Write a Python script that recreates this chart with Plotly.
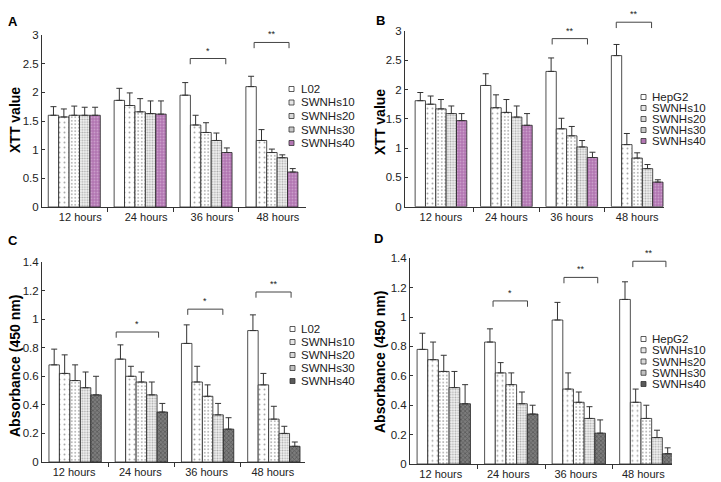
import plotly.graph_objects as go

# ---------------- data ----------------
timepoints = ["12 hours", "24 hours", "36 hours", "48 hours"]
series_normal = ["L02", "SWNHs10", "SWNHs20", "SWNHs30", "SWNHs40"]
series_tumor = ["HepG2", "SWNHs10", "SWNHs20", "SWNHs30", "SWNHs40"]

# Panel A: XTT value, L02 cells (mean per timepoint)
A_L02 = [1.60, 1.86, 1.95, 2.10]
A_S10 = [1.57, 1.77, 1.43, 1.16]
A_S20 = [1.60, 1.66, 1.30, 0.95]
A_S30 = [1.60, 1.63, 1.16, 0.86]
A_S40 = [1.60, 1.62, 0.95, 0.61]
A_L02_sd = [0.15, 0.21, 0.22, 0.18]
A_S10_sd = [0.14, 0.22, 0.17, 0.19]
A_S20_sd = [0.16, 0.23, 0.17, 0.06]
A_S30_sd = [0.14, 0.22, 0.13, 0.05]
A_S40_sd = [0.14, 0.23, 0.08, 0.06]

# Panel B: XTT value, HepG2 cells
B_HepG2 = [1.81, 2.07, 2.31, 2.58]
B_S10 = [1.75, 1.69, 1.33, 1.06]
B_S20 = [1.67, 1.61, 1.21, 0.83]
B_S30 = [1.59, 1.53, 1.02, 0.65]
B_S40 = [1.47, 1.39, 0.84, 0.42]
B_HepG2_sd = [0.14, 0.20, 0.23, 0.19]
B_S10_sd = [0.14, 0.22, 0.18, 0.19]
B_S20_sd = [0.16, 0.22, 0.16, 0.09]
B_S30_sd = [0.13, 0.19, 0.11, 0.07]
B_S40_sd = [0.12, 0.20, 0.09, 0.04]

# Panel C: Absorbance (450 nm), L02 cells
C_L02 = [0.68, 0.72, 0.83, 0.92]
C_S10 = [0.62, 0.60, 0.56, 0.54]
C_S20 = [0.57, 0.56, 0.46, 0.30]
C_S30 = [0.52, 0.47, 0.33, 0.20]
C_S40 = [0.47, 0.35, 0.23, 0.11]
C_L02_sd = [0.11, 0.10, 0.13, 0.11]
C_S10_sd = [0.13, 0.07, 0.11, 0.08]
C_S20_sd = [0.11, 0.07, 0.08, 0.09]
C_S30_sd = [0.11, 0.09, 0.08, 0.05]
C_S40_sd = [0.13, 0.06, 0.08, 0.03]

# Panel D: Absorbance (450 nm), HepG2 cells
D_HepG2 = [0.78, 0.83, 0.98, 1.12]
D_S10 = [0.71, 0.62, 0.51, 0.42]
D_S20 = [0.63, 0.54, 0.42, 0.31]
D_S30 = [0.52, 0.41, 0.31, 0.18]
D_S40 = [0.41, 0.34, 0.21, 0.07]
D_HepG2_sd = [0.11, 0.09, 0.12, 0.12]
D_S10_sd = [0.12, 0.07, 0.11, 0.09]
D_S20_sd = [0.11, 0.08, 0.07, 0.09]
D_S30_sd = [0.11, 0.08, 0.08, 0.05]
D_S40_sd = [0.13, 0.06, 0.09, 0.04]

# significance marks: (timepoint, label)
A_sig = [("36 hours", "*"), ("48 hours", "**")]
B_sig = [("36 hours", "**"), ("48 hours", "**")]
C_sig = [("24 hours", "*"), ("36 hours", "*"), ("48 hours", "**")]
D_sig = [("24 hours", "*"), ("36 hours", "**"), ("48 hours", "**")]

y_ticks_xtt = [0, 0.5, 1, 1.5, 2, 2.5, 3]
y_ticklabels_xtt = ["0", "0.5", "1", "1.5", "2", "2.5", "3"]
y_ticks_abs = [0, 0.2, 0.4, 0.6, 0.8, 1.0, 1.2, 1.4]
y_ticklabels_abs = ["0", "0.2", "0.4", "0.6", "0.8", "1", "1.2", "1.4"]

# ---------------- layout geometry (pixels of the 721x482 page) ----------------
OFF = 8  # page body margin
W, H = 721 - OFF, 482 - OFF
FONT = "Arial, Liberation Sans, sans-serif"


def px_x(p):
    return (p - OFF) / W


def px_y(p):
    return 1 - (p - OFF) / H


panels = [
    dict(key="A", names=series_normal,
         vals=[A_L02, A_S10, A_S20, A_S30, A_S40],
         sds=[A_L02_sd, A_S10_sd, A_S20_sd, A_S30_sd, A_S40_sd],
         sig=A_sig, purple=True, ytitle="XTT value",
         yt=y_ticks_xtt, ytl=y_ticklabels_xtt, ymax=3.0,
         xdom=(42, 305.5), ydom=(207, 35), xr=(-0.49, 3.51), shift=6,
         brk=[(-0.24, 0.30, 2.59), (-0.27, 0.26, 2.87)], drop=0.1,
         letter=(13, 21), title=(15, 120),
         leg=(289, 299, 89, 13.5)),
    dict(key="B", names=series_tumor,
         vals=[B_HepG2, B_S10, B_S20, B_S30, B_S40],
         sds=[B_HepG2_sd, B_S10_sd, B_S20_sd, B_S30_sd, B_S40_sd],
         sig=B_sig, purple=True, ytitle="XTT value",
         yt=y_ticks_xtt, ytl=y_ticklabels_xtt, ymax=3.0,
         xdom=(405, 664), ydom=(206.7, 31), xr=(-0.55, 3.41), shift=0,
         brk=[(-0.30, 0.24, 2.87), (-0.32, 0.22, 3.15)], drop=0.1,
         letter=(380, 20), title=(380, 122),
         leg=(641, 650, 97, 11)),
    dict(key="C", names=series_normal,
         vals=[C_L02, C_S10, C_S20, C_S30, C_S40],
         sds=[C_L02_sd, C_S10_sd, C_S20_sd, C_S30_sd, C_S40_sd],
         sig=C_sig, purple=False, ytitle="Absorbance (450 nm)",
         yt=y_ticks_abs, ytl=y_ticklabels_abs, ymax=1.4,
         xdom=(42, 305), ydom=(462, 262), xr=(-0.5, 3.47), shift=-1,
         brk=[(-0.38, 0.26, 0.91), (-0.30, 0.23, 1.07), (-0.27, 0.26, 1.19)], drop=0.04,
         letter=(13, 240), title=(15, 366),
         leg=(290, 299, 329, 13)),
    dict(key="D", names=series_tumor,
         vals=[D_HepG2, D_S10, D_S20, D_S30, D_S40],
         sds=[D_HepG2_sd, D_S10_sd, D_S20_sd, D_S30_sd, D_S40_sd],
         sig=D_sig, purple=False, ytitle="Absorbance (450 nm)",
         yt=y_ticks_abs, ytl=y_ticklabels_abs, ymax=1.4,
         xdom=(410, 672), ydom=(464, 258.3), xr=(-0.5, 3.38), shift=-3,
         brk=[(-0.27, 0.24, 1.11), (-0.22, 0.28, 1.27), (-0.20, 0.29, 1.38)], drop=0.04,
         letter=(378, 239), title=(380, 362),
         leg=(641, 650, 339, 11.25)),
]


# bar styles per series index
def bar_style(i, purple):
    if i == 0:
        return dict(color="white")
    if i == 1:
        return dict(color="white", pattern=dict(shape=".", fgcolor="#555", bgcolor="white",
                                                size=5, solidity=0.12, fillmode="overlay"))
    if i == 2:
        return dict(color="white", pattern=dict(shape=".", fgcolor="#555", bgcolor="white",
                                                size=3.5, solidity=0.22, fillmode="overlay"))
    if i == 3:
        return dict(color="#f2f2f2", pattern=dict(shape=".", fgcolor="#666", bgcolor="#f4f4f4",
                                                  size=2.6, solidity=0.4, fillmode="overlay"))
    if purple:
        return dict(color="#b276b2", pattern=dict(shape=".", fgcolor="#e2c4e2", bgcolor="#b276b2",
                                                  size=3, solidity=0.3, fillmode="overlay"))
    return dict(color="#6a6a6a", pattern=dict(shape="x", fgcolor="#2e2e2e", bgcolor="#7c7c7c",
                                              size=3, solidity=0.4, fillmode="overlay"))


legend_fill_purple = ["white", "#e6e6e6", "#d8d8d8", "#c8c8c8", "#b276b2"]
legend_fill_gray = ["white", "#e6e6e6", "#d8d8d8", "#c0c0c0", "#5a5a5a"]

fig = go.Figure()
shapes = []
annotations = []
xpos = list(range(len(timepoints)))

for pi, p in enumerate(panels):
    sfx = "" if pi == 0 else str(pi + 1)
    xa, ya = "x" + sfx, "y" + sfx
    for si, name in enumerate(p["names"]):
        st = bar_style(si, p["purple"])
        fig.add_trace(go.Bar(
            x=xpos, y=p["vals"][si], name=name, showlegend=False,
            xaxis=xa, yaxis=ya, offsetgroup=str(si),
            marker=dict(line=dict(color="#222", width=0.8), **st),
            error_y=dict(type="data", array=p["sds"][si], arrayminus=[0] * 4,
                         symmetric=False, color="#333", thickness=1, width=3),
        ))
    lay = dict(
        domain=[px_x(p["xdom"][0]), px_x(p["xdom"][1])],
        range=list(p["xr"]), anchor=ya,
        tickvals=xpos, ticktext=timepoints, ticks="",
        ticklabelshift=p["shift"],
        tickfont=dict(family=FONT, size=11, color="#222"),
        showline=True, linecolor="#333", linewidth=1, showgrid=False, zeroline=False,
        minor=dict(tickvals=[0.5, 1.5, 2.5], ticks="outside", ticklen=4, tickcolor="#333"),
    )
    ylay = dict(
        domain=[px_y(p["ydom"][0]), px_y(p["ydom"][1])],
        range=[0, p["ymax"]], anchor=xa,
        tickvals=p["yt"], ticktext=p["ytl"], ticks="inside", ticklen=3, tickcolor="#333",
        tickfont=dict(family=FONT, size=11.5, color="#222"),
        showline=True, linecolor="#333", linewidth=1, showgrid=False, zeroline=False,
    )
    fig.update_layout(**{"xaxis" + sfx: lay, "yaxis" + sfx: ylay})

    # significance brackets
    for (tp, lab), (o0, o1, yb) in zip(p["sig"], p["brk"]):
        xc = timepoints.index(tp)
        yd = yb / p["ymax"]
        yd2 = (yb - p["drop"]) / p["ymax"]
        shapes.append(dict(type="path", xref=xa, yref=ya + " domain",
                           path=f"M {xc + o0},{yd2} L {xc + o0},{yd} L {xc + o1},{yd} L {xc + o1},{yd2}",
                           line=dict(color="#444", width=1)))
        annotations.append(dict(x=xc + (o0 + o1) / 2, y=yd, xref=xa, yref=ya + " domain",
                                text=lab, showarrow=False, xanchor="center", yanchor="bottom", yshift=1,
                                font=dict(family=FONT, size=9, color="#222")))

    # panel letter and y title
    annotations.append(dict(x=px_x(p["letter"][0]), y=px_y(p["letter"][1]), xref="paper", yref="paper",
                            text="<b>" + p["key"] + "</b>", showarrow=False,
                            xanchor="center", yanchor="middle",
                            font=dict(family=FONT, size=13, color="black")))
    annotations.append(dict(x=px_x(p["title"][0]), y=px_y(p["title"][1]), xref="paper", yref="paper",
                            text="<b>" + p["ytitle"] + "</b>", showarrow=False, textangle=-90,
                            xanchor="center", yanchor="middle",
                            font=dict(family=FONT, size=14, color="black")))

    # manual legend
    sx, tx, y0, dy = p["leg"]
    fills = legend_fill_purple if p["purple"] else legend_fill_gray
    for si, name in enumerate(p["names"]):
        yc = y0 + si * dy
        shapes.append(dict(type="rect", xref="paper", yref="paper",
                           x0=px_x(sx), x1=px_x(sx + 5), y0=px_y(yc + 2.5), y1=px_y(yc - 2.5),
                           fillcolor=fills[si], line=dict(color="#333", width=0.8)))
        annotations.append(dict(x=px_x(tx), y=px_y(yc), xref="paper", yref="paper",
                                text=name, showarrow=False, xanchor="left", yanchor="middle",
                                font=dict(family=FONT, size=11.5, color="#222")))

fig.update_layout(
    width=W, height=H, barmode="group", bargap=0.21, bargroupgap=0,
    margin=dict(l=0, r=0, t=0, b=0, autoexpand=False),
    paper_bgcolor="white", plot_bgcolor="white",
    showlegend=False, shapes=shapes, annotations=annotations,
    font=dict(family=FONT),
)

fig.write_html("out.html")
